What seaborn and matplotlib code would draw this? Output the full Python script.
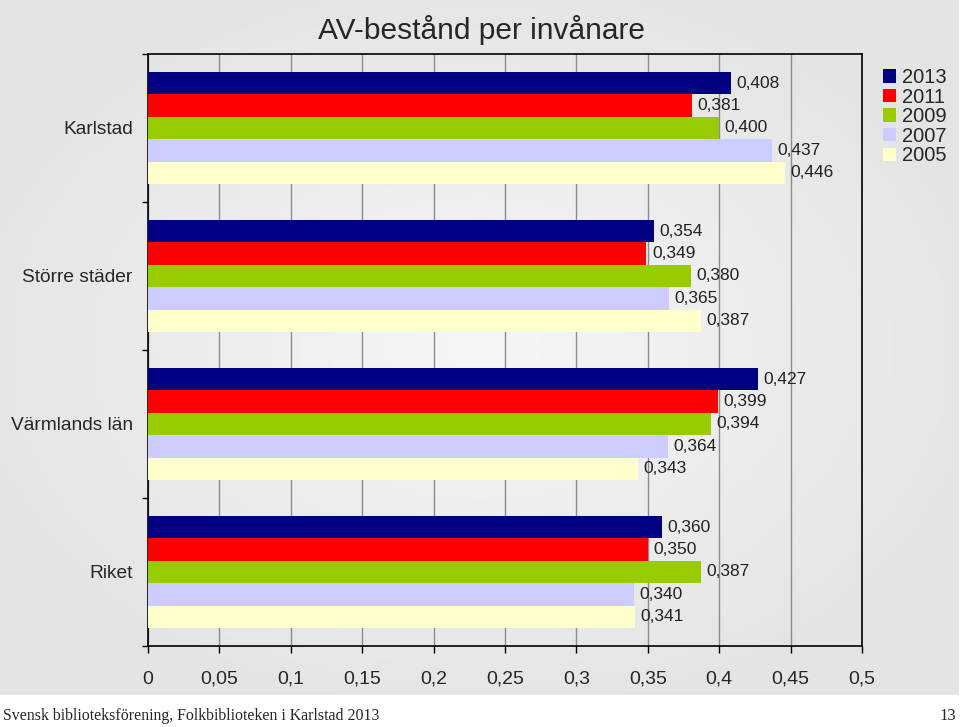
import numpy as np
import pandas as pd
import matplotlib
matplotlib.use("Agg")
import matplotlib.pyplot as plt
import seaborn as sns
from matplotlib.patches import Patch
from matplotlib.colors import LinearSegmentedColormap

# Data
categories = ["Karlstad", "Större städer", "Värmlands län", "Riket"]
years = ["2013", "2011", "2009", "2007", "2005"]
v2013 = [0.408, 0.354, 0.427, 0.360]
v2011 = [0.381, 0.349, 0.399, 0.350]
v2009 = [0.400, 0.380, 0.394, 0.387]
v2007 = [0.437, 0.365, 0.364, 0.340]
v2005 = [0.446, 0.387, 0.343, 0.341]
colors = ["#000080", "#FF0000", "#99CC00", "#CCCCFF", "#FFFFCC"]
xticks = [0, 0.05, 0.1, 0.15, 0.2, 0.25, 0.3, 0.35, 0.4, 0.45, 0.5]

series = [v2013, v2011, v2009, v2007, v2005]
rows = []
for yr, vals in zip(years, series):
    for cat, v in zip(categories, vals):
        rows.append({"Kategori": cat, "År": yr, "Värde": v})
df = pd.DataFrame(rows)

sns.set_style("white")
plt.rcParams['font.family'] = ['Liberation Sans', 'DejaVu Sans']

fig = plt.figure(figsize=(9.6, 7.27), dpi=100)
fig.patch.set_facecolor("white")

# Gray gradient background panel
bg = fig.add_axes([0, 1 - 695 / 727, 959 / 960, 695 / 727])
xx = np.linspace(-1, 1, 300)
yy = np.linspace(-1, 1, 200)
X, Y = np.meshgrid(xx, yy)
grad = 1 - 0.5 * np.clip(np.sqrt((X * 0.9) ** 2 + (Y * 0.9) ** 2), 0, 1)
bg.imshow(grad, cmap=LinearSegmentedColormap.from_list("g", ["#e4e4e4", "#f6f6f6"]),
          aspect="auto", extent=[0, 1, 0, 1])
bg.set_axis_off()

ax = fig.add_axes([148 / 960, 1 - 646 / 727, (862 - 148) / 960, (646 - 54) / 727])
ax.patch.set_alpha(0)

sns.barplot(data=df, y="Kategori", x="Värde", hue="År", hue_order=years,
            order=categories, palette=colors, orient="h", width=0.76,
            saturation=1, linewidth=0, ax=ax, legend=False, zorder=3)

for cont, vals in zip(ax.containers, series):
    ax.bar_label(cont, labels=[f"{v:.3f}".replace(".", ",") for v in vals],
                 padding=4, fontsize=12.5, color="#222222")

ax.set_xlim(0, 0.5)
ax.set_ylim(3.5, -0.5)
ax.set_xticks(xticks)
ax.set_xticklabels([("%g" % t).replace(".", ",") for t in xticks], fontsize=14)
for lbl in ax.get_xticklabels():
    lbl.set_verticalalignment("baseline")
ax.xaxis.grid(True, color="#8c8c8c", linewidth=1, zorder=0)
ax.set_axisbelow(True)
ax.set_xlabel("")
ax.set_ylabel("")
ax.set_yticks(range(len(categories)))
ax.set_yticklabels(categories, fontsize=13.8)
ax.set_yticks([-0.5, 0.5, 1.5, 2.5, 3.5], minor=True)
ax.tick_params(axis="y", which="major", length=0, pad=11)
ax.tick_params(axis="y", which="minor", length=4, width=1, direction="out", color="black", left=True)
ax.tick_params(axis="x", length=5, width=1, direction="out", color="black", bottom=True, pad=22)
for s in ax.spines.values():
    s.set_visible(True)
    s.set_color("black")
    s.set_linewidth(1.2)

fig.text(481 / 960, 1 - 30 / 727, "AV-bestånd per invånare", ha="center", va="center", fontsize=21.5)

handles = [Patch(facecolor=c, edgecolor="none", label=y) for c, y in zip(colors, years)]
fig.legend(handles=handles, loc="upper left", bbox_to_anchor=(883 / 960, 1 - 68 / 727),
           frameon=False, fontsize=14.5, handlelength=0.65, handleheight=0.65,
           handletextpad=0.3, labelspacing=0.03, borderpad=0, borderaxespad=0)

fig.text(3 / 960, 1 - 716 / 727, "Svensk biblioteksförening, Folkbiblioteken i Karlstad 2013",
         ha="left", va="center", fontsize=11.4, family=["Liberation Serif", "DejaVu Serif"])
fig.text(956 / 960, 1 - 716 / 727, "13", ha="right", va="center", fontsize=12,
         family=["Liberation Serif", "DejaVu Serif"])

fig.savefig("out.png", dpi=100)
